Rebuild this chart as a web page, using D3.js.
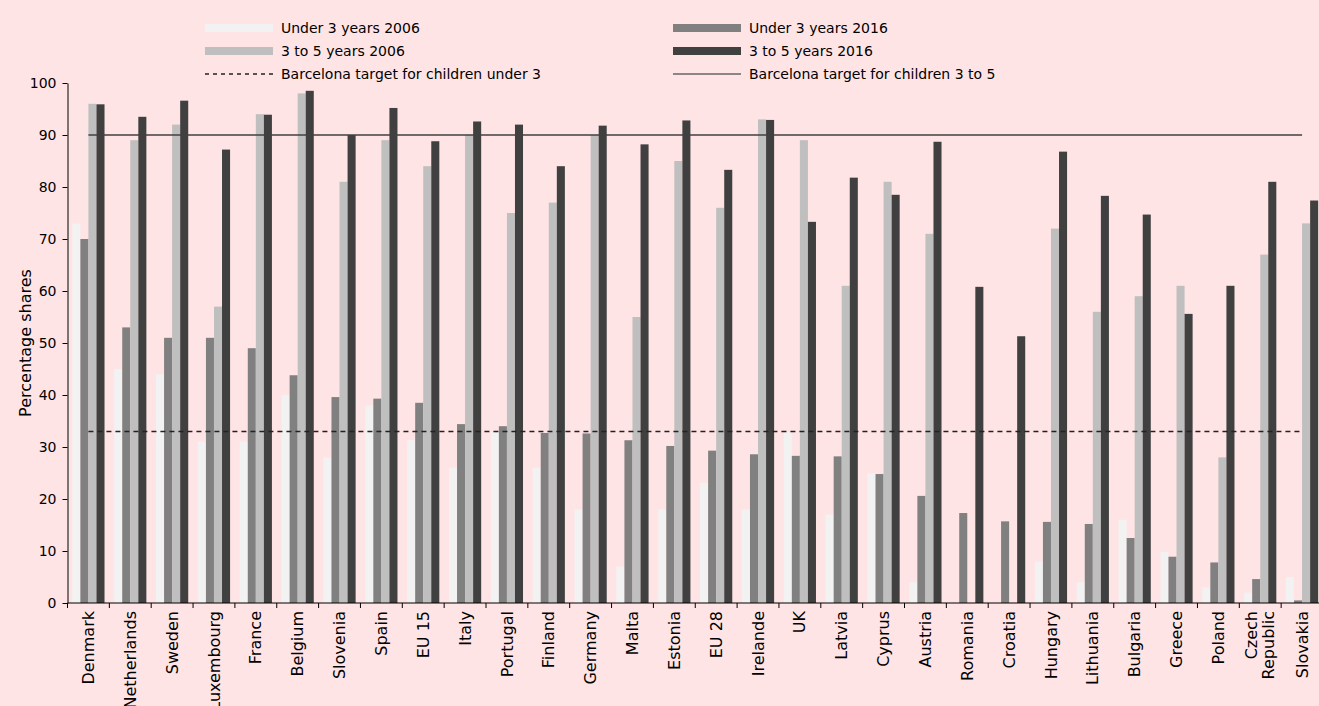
<!DOCTYPE html>
<html>
<head>
<meta charset="utf-8">
<script src="https://cdn.jsdelivr.net/npm/d3@7"></script>
<style>
  html, body { margin: 0; padding: 0; background: #ffe4e6; overflow: hidden; }
  svg { display: block; font-family: "DejaVu Sans", sans-serif; }
</style>
</head>
<body>
<svg id="chart" width="1319" height="706"></svg>
<script>
// categories and values
const countries = ['Denmark', 'Netherlands', 'Sweden', 'Luxembourg', 'France', 'Belgium', 'Slovenia', 'Spain',
  'EU 15', 'Italy', 'Portugal', 'Finland', 'Germany', 'Malta', 'Estonia', 'EU 28', 'Irelande', 'UK', 'Latvia',
  'Cyprus', 'Austria', 'Romania', 'Croatia', 'Hungary', 'Lithuania', 'Bulgaria', 'Greece', 'Poland',
  'Czech Republic', 'Slovakia'];

const under3_2006 = [73, 45, 44, 31, 31, 40, 28, 38, 31.3, 26, 33, 26, 18, 7, 18, 23.1, 18, 32.8, 17, 24.9,
  4, null, null, 8, 4, 16, 9.8, 3, 2, 5];
const under3_2016 = [70, 53, 51, 51, 49, 43.8, 39.6, 39.3, 38.5, 34.4, 34, 32.7, 32.6, 31.3, 30.2, 29.3, 28.6,
  28.3, 28.2, 24.8, 20.6, 17.3, 15.7, 15.6, 15.2, 12.5, 8.9, 7.8, 4.6, 0.5];
const age3to5_2006 = [96, 89, 92, 57, 94, 98, 81, 89, 84, 90, 75, 77, 90, 55, 85, 76, 93, 89, 61, 81, 71,
  null, null, 72, 56, 59, 61, 28, 67, 73];
const age3to5_2016 = [95.9, 93.5, 96.6, 87.2, 93.9, 98.5, 90, 95.2, 88.8, 92.6, 92, 84, 91.8, 88.2, 92.8, 83.3,
  92.9, 73.3, 81.8, 78.5, 88.7, 60.8, 51.3, 86.8, 78.3, 74.7, 55.6, 61, 81, 77.4];

const targetUnder3 = 33;
const target3to5 = 90;

const seriesNames = ['Under 3 years 2006', 'Under 3 years 2016', '3 to 5 years 2006', '3 to 5 years 2016'];
const seriesColors = ['#f2f2f2', '#808080', '#bfbfbf', '#404040'];
const yTicks = [0, 10, 20, 30, 40, 50, 60, 70, 80, 90, 100];

const svg = d3.select('#chart');
const plotLeft = 67.5, plotTop = 83, plotBottom = 603;
const bandW = 41.85;

const x0 = d3.scaleBand()
  .domain(countries)
  .range([plotLeft, plotLeft + bandW * countries.length])
  .paddingInner(0)
  .paddingOuter(0);

const x1 = d3.scaleBand()
  .domain(d3.range(4))
  .range([0, x0.bandwidth()])
  .paddingInner(0)
  .paddingOuter(0.6);

const y = d3.scaleLinear().domain([0, 100]).range([plotBottom, plotTop]);

const rows = countries.map((c, i) => ({
  country: c,
  values: [under3_2006[i], under3_2016[i], age3to5_2006[i], age3to5_2016[i]]
}));

// bars
const groups = svg.append('g').selectAll('g')
  .data(rows)
  .enter().append('g')
  .attr('transform', d => `translate(${x0(d.country)},0)`);

groups.selectAll('rect')
  .data(d => d.values.map((v, k) => ({ k, v })).filter(e => e.v != null))
  .enter().append('rect')
  .attr('x', e => x1(e.k))
  .attr('y', e => y(e.v))
  .attr('width', x1.bandwidth())
  .attr('height', e => y(0) - y(e.v))
  .attr('fill', e => seriesColors[e.k]);

// Barcelona target lines (first to last category centre)
const xFirst = x0(countries[0]) + x0.bandwidth() / 2;
const xLast = x0(countries[countries.length - 1]) + x0.bandwidth() / 2;

svg.append('line')
  .attr('x1', xFirst).attr('x2', xLast)
  .attr('y1', y(target3to5)).attr('y2', y(target3to5))
  .attr('stroke', '#404040')
  .attr('stroke-width', 1.3);

svg.append('line')
  .attr('x1', xFirst).attr('x2', xLast)
  .attr('y1', y(targetUnder3)).attr('y2', y(targetUnder3))
  .attr('stroke', '#222')
  .attr('stroke-width', 1.5)
  .attr('stroke-dasharray', '5,4');

// y axis
const yAxis = svg.append('g')
  .attr('transform', `translate(${plotLeft},0)`)
  .call(d3.axisLeft(y).tickValues(yTicks).tickSize(5).tickPadding(6).tickSizeOuter(0));
yAxis.select('.domain').attr('stroke', '#000');
yAxis.selectAll('text').attr('font-size', 14).attr('fill', '#000')
  .attr('font-family', '"DejaVu Sans", sans-serif');

svg.append('text')
  .attr('transform', `translate(31,${(plotTop + plotBottom) / 2}) rotate(-90)`)
  .attr('text-anchor', 'middle')
  .attr('font-size', 16)
  .text('Percentage shares');

// x axis: ticks at band boundaries
svg.append('line')
  .attr('x1', plotLeft).attr('x2', plotLeft + bandW * countries.length)
  .attr('y1', plotBottom).attr('y2', plotBottom)
  .attr('stroke', '#000');

svg.append('g').selectAll('line')
  .data(countries)
  .enter().append('line')
  .attr('x1', d => x0(d)).attr('x2', d => x0(d))
  .attr('y1', plotBottom).attr('y2', plotBottom + 5)
  .attr('stroke', '#000');

const xLabels = svg.append('g').selectAll('text')
  .data(countries)
  .enter().append('text')
  .attr('transform', d => `translate(${x0(d) + x0.bandwidth() / 2},${plotBottom + 8}) rotate(-90)`)
  .attr('text-anchor', 'end')
  .attr('font-size', 16);

xLabels.each(function(d) {
  const parts = d === 'Czech Republic' ? ['Czech', 'Republic'] : [d];
  const t = d3.select(this);
  parts.forEach((p, i) => {
    t.append('tspan')
      .attr('x', 0)
      .attr('y', (i - (parts.length - 1) / 2) * 17)
      .attr('dy', '0.35em')
      .text(p);
  });
});

// legend
const legendCols = [205, 673];
const legendRows = [28, 51, 74];
const legendItems = [
  { name: seriesNames[0], col: 0, row: 0, type: 'bar', color: seriesColors[0] },
  { name: seriesNames[1], col: 1, row: 0, type: 'bar', color: seriesColors[1] },
  { name: seriesNames[2], col: 0, row: 1, type: 'bar', color: seriesColors[2] },
  { name: seriesNames[3], col: 1, row: 1, type: 'bar', color: seriesColors[3] },
  { name: 'Barcelona target for children under 3', col: 0, row: 2, type: 'dash' },
  { name: 'Barcelona target for children 3 to 5', col: 1, row: 2, type: 'line' }
];

const legend = svg.append('g').selectAll('g')
  .data(legendItems)
  .enter().append('g')
  .attr('transform', d => `translate(${legendCols[d.col]},${legendRows[d.row]})`);

legend.filter(d => d.type === 'bar').append('rect')
  .attr('x', 0).attr('y', -4)
  .attr('width', 68).attr('height', 8)
  .attr('fill', d => d.color);

legend.filter(d => d.type === 'dash').append('line')
  .attr('x1', 0).attr('x2', 68)
  .attr('stroke', '#222').attr('stroke-width', 1.5)
  .attr('stroke-dasharray', '4,4');

legend.filter(d => d.type === 'line').append('line')
  .attr('x1', 0).attr('x2', 68)
  .attr('stroke', '#666').attr('stroke-width', 1.3);

legend.append('text')
  .attr('x', 76)
  .attr('dy', '0.35em')
  .attr('font-size', 14)
  .text(d => d.name);
</script>
</body>
</html>
